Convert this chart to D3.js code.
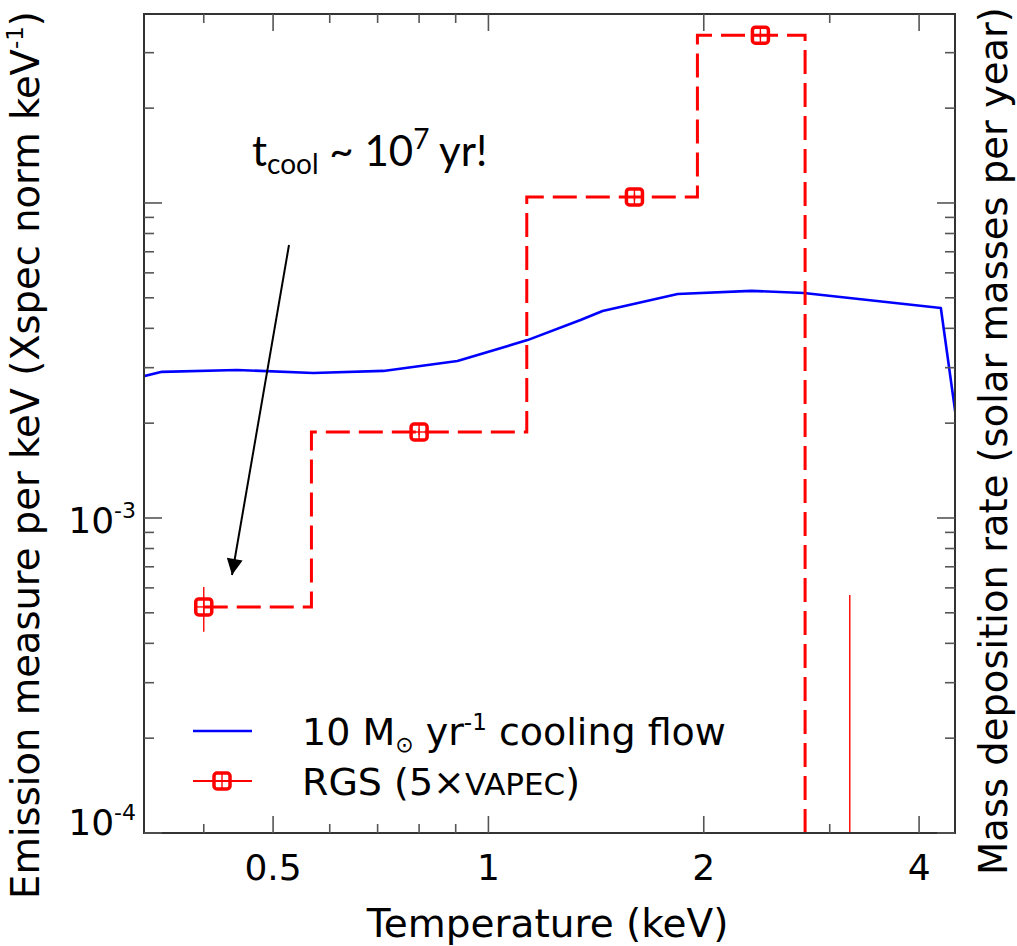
<!DOCTYPE html>
<html>
<head>
<meta charset="utf-8">
<script src="https://cdn.jsdelivr.net/npm/d3@7"></script>
<style>
  body { margin: 0; background: #fff; }
  text { font-family: "DejaVu Sans", Verdana, sans-serif; fill: #000; }
</style>
</head>
<body>
<div id="chart"></div>
<script>
  // Cooling flow model (blue line), temperature in keV vs emission measure.
  var coolTemp = [0.3256, 0.3496, 0.4452, 0.569, 0.713, 0.905, 1.134, 1.345, 1.444, 1.839, 2.33, 2.76, 4.29, 4.55];
  var coolNorm = [2.80e-3, 2.91e-3, 2.95e-3, 2.885e-3, 2.93e-3, 3.15e-3, 3.67e-3, 4.25e-3, 4.54e-3, 5.14e-3, 5.26e-3, 5.18e-3, 4.64e-3, 1.77e-3];

  // RGS fit with 5 VAPEC components.
  var rgsTemp = [0.4, 0.8, 1.6, 2.4, 3.2];
  var rgsNorm = [5.22e-4, 1.875e-3, 1.045e-2, 3.41e-2, 4.0e-5];
  var rgsLow  = [4.35e-4, 1.83e-3, 1.02e-2, 3.34e-2, 1.0e-6];
  var rgsHigh = [6.04e-4, 1.92e-3, 1.07e-2, 3.48e-2, 5.7e-4];

  // Axes.
  var xDomain = [0.33, 4.49];
  var yDomain = [1e-4, 0.0398];
  var xMajor = [0.5, 1, 2, 4];
  var xMinor = [0.4, 0.6, 0.7, 0.8, 0.9, 3];
  var xLabels = ['0.5', '1', '2', '4'];
  var yMajor = [1e-4, 1e-3, 1e-2];
  var yMinor = [2e-4, 3e-4, 4e-4, 5e-4, 6e-4, 7e-4, 8e-4, 9e-4,
                2e-3, 3e-3, 4e-3, 5e-3, 6e-3, 7e-3, 8e-3, 9e-3, 2e-2, 3e-2];
  var yLabels = [['10', '-4'], ['10', '-3'], null];

  var legendLabels = ['cool', 'rgs'];

  var WIDTH = 1017, HEIGHT = 946;
  var LEFT = 144, RIGHT = 955, TOP = 14, BOTTOM = 833;
  var MAJOR_TICK = 18, MINOR_TICK = 10;
  var RED = '#ff0000', BLUE = '#0000ff';

  var svg = d3.select('#chart').append('svg')
    .attr('width', WIDTH)
    .attr('height', HEIGHT);

  var x = d3.scaleLog().domain(xDomain).range([LEFT, RIGHT]);
  var y = d3.scaleLog().domain(yDomain).range([BOTTOM, TOP]);

  svg.append('clipPath').attr('id', 'plot-clip')
    .append('rect')
    .attr('x', LEFT).attr('y', TOP)
    .attr('width', RIGHT - LEFT).attr('height', BOTTOM - TOP);

  var plot = svg.append('g').attr('clip-path', 'url(#plot-clip)');

  // Cooling flow curve.
  var coolData = coolTemp.map(function(t, i) { return {t: t, v: coolNorm[i]}; });
  plot.append('path')
    .datum(coolData)
    .attr('fill', 'none')
    .attr('stroke', BLUE)
    .attr('stroke-width', 2.6)
    .attr('stroke-linejoin', 'round')
    .attr('d', d3.line().x(function(d) { return x(d.t); }).y(function(d) { return y(d.v); }));

  // RGS step line (changes at midpoints between the points).
  var rgsData = rgsTemp.map(function(t, i) {
    return {t: t, v: rgsNorm[i], lo: rgsLow[i], hi: rgsHigh[i]};
  });
  plot.append('path')
    .datum(rgsData)
    .attr('fill', 'none')
    .attr('stroke', RED)
    .attr('stroke-width', 3)
    .attr('stroke-dasharray', '24,9')
    .attr('d', d3.line().curve(d3.curveStep)
      .x(function(d) { return x(d.t); }).y(function(d) { return y(d.v); }));

  // Error bars.
  plot.selectAll('.errbar')
    .data(rgsData)
  .enter().append('line')
    .attr('class', 'errbar')
    .attr('stroke', RED)
    .attr('stroke-width', 1.4)
    .attr('x1', function(d) { return x(d.t); })
    .attr('x2', function(d) { return x(d.t); })
    .attr('y1', function(d) { return y(d.lo); })
    .attr('y2', function(d) { return y(d.hi); });

  function drawMarker(g, cx, cy) {
    g.append('rect')
      .attr('x', cx - 8).attr('y', cy - 8)
      .attr('width', 16).attr('height', 16)
      .attr('rx', 3)
      .attr('fill', 'none')
      .attr('stroke', RED)
      .attr('stroke-width', 3.5);
    g.append('line')
      .attr('x1', cx - 7).attr('x2', cx + 7)
      .attr('y1', cy).attr('y2', cy)
      .attr('stroke', RED).attr('stroke-width', 1.4);
    g.append('line')
      .attr('x1', cx).attr('x2', cx)
      .attr('y1', cy - 7).attr('y2', cy + 7)
      .attr('stroke', RED).attr('stroke-width', 1.4);
  }

  rgsData.forEach(function(d) {
    drawMarker(plot, x(d.t), y(d.v));
  });

  // Frame.
  svg.append('rect')
    .attr('x', LEFT).attr('y', TOP)
    .attr('width', RIGHT - LEFT).attr('height', BOTTOM - TOP)
    .attr('fill', 'none')
    .attr('stroke', '#333')
    .attr('stroke-width', 2);

  // Ticks on all four sides, pointing inward.
  var tickG = svg.append('g').attr('stroke', '#555').attr('stroke-width', 1.6);
  function xTicks(vals, len) {
    vals.forEach(function(v) {
      tickG.append('line').attr('x1', x(v)).attr('x2', x(v)).attr('y1', BOTTOM).attr('y2', BOTTOM - len);
      tickG.append('line').attr('x1', x(v)).attr('x2', x(v)).attr('y1', TOP).attr('y2', TOP + len);
    });
  }
  function yTicks(vals, len) {
    vals.forEach(function(v) {
      tickG.append('line').attr('y1', y(v)).attr('y2', y(v)).attr('x1', LEFT).attr('x2', LEFT + len);
      tickG.append('line').attr('y1', y(v)).attr('y2', y(v)).attr('x1', RIGHT).attr('x2', RIGHT - len);
    });
  }
  xTicks(xMajor, MAJOR_TICK - 1);
  xTicks(xMinor, MINOR_TICK - 1);
  yTicks(yMajor, MAJOR_TICK);
  yTicks(yMinor, MINOR_TICK);

  // Tick labels.
  svg.selectAll('.xlabel')
    .data(xMajor)
  .enter().append('text')
    .attr('class', 'xlabel')
    .attr('x', function(d) { return x(d); })
    .attr('y', BOTTOM + 47)
    .attr('text-anchor', 'middle')
    .attr('font-size', 36)
    .text(function(d, i) { return xLabels[i]; });

  yMajor.forEach(function(v, i) {
    if (!yLabels[i]) return;
    var t = svg.append('text')
      .attr('x', LEFT - 8)
      .attr('y', Math.min(y(v) + 15, BOTTOM + 2))
      .attr('text-anchor', 'end')
      .attr('font-size', 36);
    t.append('tspan').text(yLabels[i][0]);
    t.append('tspan').attr('font-size', 22).attr('dy', -15).text(yLabels[i][1]);
  });

  // Axis titles.
  svg.append('text')
    .attr('x', (LEFT + RIGHT) / 2 - 2)
    .attr('y', 937)
    .attr('text-anchor', 'middle')
    .attr('font-size', 39)
    .text('Temperature (keV)');

  var yTitle = svg.append('text')
    .attr('transform', 'translate(39,455) rotate(-90)')
    .attr('text-anchor', 'middle')
    .attr('font-size', 38.5);
  yTitle.append('tspan').text('Emission measure per keV (Xspec norm keV');
  yTitle.append('tspan').attr('font-size', 23).attr('dy', -16).text('-1');
  yTitle.append('tspan').attr('dy', 16).text(')');

  svg.append('text')
    .attr('transform', 'translate(1007,441) rotate(-90)')
    .attr('text-anchor', 'middle')
    .attr('font-size', 38.5)
    .text('Mass deposition rate (solar masses per year)');

  // Legend.
  var legend = svg.append('g');
  legendLabels.forEach(function(key, i) {
    var ly = 731 + i * 50;
    legend.append('line')
      .attr('x1', 193).attr('x2', 252).attr('y1', ly).attr('y2', ly)
      .attr('stroke', key === 'cool' ? BLUE : RED)
      .attr('stroke-width', key === 'cool' ? 2.6 : 1.8);
    if (key === 'rgs') drawMarker(legend, 222, ly);
    var t = legend.append('text')
      .attr('x', 302).attr('y', ly + 14)
      .attr('font-size', 38);
    if (key === 'cool') {
      t.append('tspan').text('10 M');
      t.append('tspan').attr('font-size', 22).attr('dy', 7).text('\u2299');
      t.append('tspan').attr('dy', -7).text(' yr');
      t.append('tspan').attr('font-size', 23).attr('dy', -15).text('-1');
      t.append('tspan').attr('dy', 15).text(' cooling flow');
    } else {
      t.append('tspan').text('RGS (5\u00d7');
      t.append('tspan').attr('font-size', 31).text('VAPEC');
      t.append('tspan').text(')');
    }
  });

  // Annotation with arrow.
  svg.append('defs').append('marker')
    .attr('id', 'arrowhead')
    .attr('viewBox', '0 0 10 10')
    .attr('refX', 10).attr('refY', 5)
    .attr('markerWidth', 9).attr('markerHeight', 8)
    .attr('markerUnits', 'strokeWidth')
    .attr('orient', 'auto')
    .append('path')
    .attr('d', 'M0,0 L10,5 L0,10 z')
    .attr('fill', '#000');

  svg.append('line')
    .attr('x1', 289).attr('y1', 245)
    .attr('x2', 232).attr('y2', 575)
    .attr('stroke', '#000')
    .attr('stroke-width', 2)
    .attr('marker-end', 'url(#arrowhead)');

  var note = svg.append('text')
    .attr('x', 252).attr('y', 166)
    .style('font-family', 'Lato, "Open Sans", sans-serif')
    .attr('font-size', 42);
  note.append('tspan').text('t');
  note.append('tspan').attr('font-size', 28).attr('dy', 8).text('cool');
  note.append('tspan').attr('dy', -8).text(' ~ 10');
  note.append('tspan').attr('font-size', 28).attr('dy', -17).text('7');
  note.append('tspan').attr('dy', 17).text(' yr!');
</script>
</body>
</html>
